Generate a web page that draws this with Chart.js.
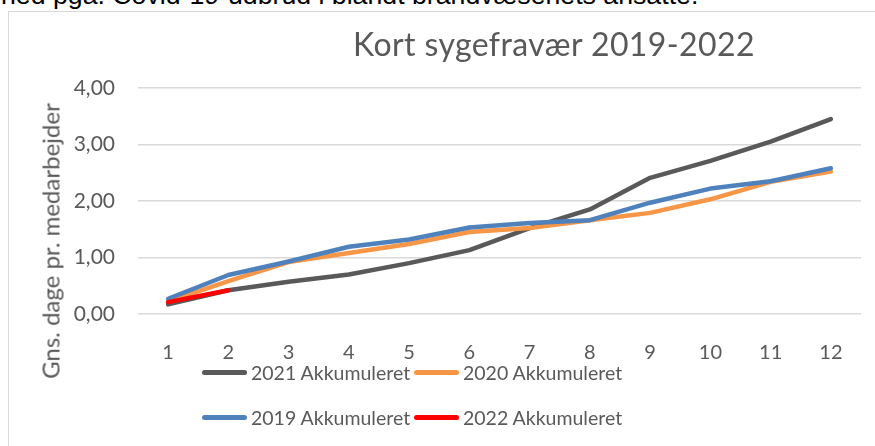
<!DOCTYPE html>
<html>
<head>
<meta charset="utf-8">
<script src="https://cdn.jsdelivr.net/npm/chart.js@4.4.0/dist/chart.umd.min.js"></script>
<style>
  body { margin: 0; background: #fff; overflow: hidden; }
  #wrap { position: relative; width: 875px; height: 446px; overflow: hidden; }
  #intro { position: absolute; left: 1px; top: -20px; font-family: "Liberation Sans", Arial, sans-serif; font-size: 26.7px; color: #000; white-space: nowrap; }
  #frame { position: absolute; left: 8px; top: 11px; width: 900px; height: 500px; border-left: 1px solid #d9d9d9; border-top: 1px solid #d9d9d9; }
  #chart { position: absolute; left: 0; top: 0; }
  #title { position: absolute; left: 353px; top: 24px; font-family: Lato, sans-serif; font-size: 32px; letter-spacing: 0.4px; color: #595959; white-space: nowrap; }
  #ytitle { position: absolute; left: 50px; top: 241px; transform: translate(-50%, -50%) rotate(-90deg); font-family: Lato, sans-serif; font-size: 24px; color: #595959; white-space: nowrap; }
  .leg { position: absolute; font-family: Lato, sans-serif; font-size: 19.5px; color: #595959; white-space: nowrap; display: flex; align-items: center; }
  .leg span.swatch { display: inline-block; width: 45px; height: 5px; border-radius: 3px; margin-right: 4px; }
</style>
</head>
<body>
<div id="wrap">
  <div id="intro">ned pga. Covid-19-udbrud i blandt brandvæsenets ansatte.</div>
  <div id="frame"></div>
  <canvas id="chart" width="875" height="446"></canvas>
  <div id="title">Kort sygefravær 2019-2022</div>
  <div id="ytitle">Gns. dage pr. medarbejder</div>
  <div id="legend"></div>
</div>
<script>
// Months 1-12
const months = ['1', '2', '3', '4', '5', '6', '7', '8', '9', '10', '11', '12'];

// Accumulated short sick leave, days per employee
const values2021 = [0.17, 0.42, 0.57, 0.70, 0.90, 1.13, 1.52, 1.85, 2.41, 2.71, 3.05, 3.45];
const values2020 = [0.22, 0.58, 0.92, 1.08, 1.24, 1.45, 1.52, 1.66, 1.79, 2.03, 2.34, 2.52];
const values2019 = [0.27, 0.69, 0.93, 1.19, 1.32, 1.53, 1.61, 1.66, 1.97, 2.22, 2.35, 2.58];
const values2022 = [0.21, 0.42];

const seriesNames = ['2021 Akkumuleret', '2020 Akkumuleret', '2019 Akkumuleret', '2022 Akkumuleret'];
const seriesColors = ['#595959', '#F79646', '#4F81BD', '#FF0000'];

const yTicks = [0, 1, 2, 3, 4];

function formatTick(v) {
    return v.toFixed(2).replace('.', ',');
}

function makeDataset(i, values, order) {
    return {
        label: seriesNames[i],
        data: values,
        borderColor: seriesColors[i],
        backgroundColor: seriesColors[i],
        borderWidth: 4.5,
        borderCapStyle: 'round',
        borderJoinStyle: 'round',
        pointRadius: 0,
        tension: 0,
        fill: false,
        order: order
    };
}

const ctx = document.getElementById('chart').getContext('2d');

new Chart(ctx, {
    type: 'line',
    data: {
        labels: months,
        datasets: [
            makeDataset(0, values2021, 4),
            makeDataset(1, values2020, 3),
            makeDataset(2, values2019, 2),
            makeDataset(3, values2022, 1)
        ]
    },
    options: {
        responsive: false,
        animation: false,
        layout: {
            padding: { left: 0, top: 88, right: 14, bottom: 0 }
        },
        plugins: {
            legend: { display: false },
            tooltip: { enabled: false }
        },
        scales: {
            x: {
                offset: true,
                grid: { display: false },
                border: { display: false },
                ticks: {
                    color: '#595959',
                    font: { family: 'Lato', size: 20 },
                    padding: 19,
                    maxRotation: 0
                },
                afterFit: scale => { scale.height = 132; }
            },
            y: {
                min: 0,
                max: 4,
                afterBuildTicks: scale => { scale.ticks = yTicks.map(v => ({ value: v })); },
                grid: { color: '#d9d9d9', lineWidth: 1.5, drawTicks: false },
                border: { display: false },
                ticks: {
                    color: '#595959',
                    font: { family: 'Lato', size: 21 },
                    padding: 23,
                    callback: v => formatTick(v)
                },
                afterFit: scale => { scale.width = 138; }
            }
        }
    }
});

// Legend in two rows, two items per row
const legend = document.getElementById('legend');
const legendPos = [[202, 372], [414, 372], [202, 417], [414, 417]];
seriesNames.forEach((name, i) => {
    const item = document.createElement('div');
    item.className = 'leg';
    item.style.left = legendPos[i][0] + 'px';
    item.style.top = (legendPos[i][1] - 12) + 'px';
    item.style.height = '24px';
    item.innerHTML = '<span class="swatch" style="background:' + seriesColors[i] + '"></span>' + name;
    legend.appendChild(item);
});
</script>
</body>
</html>
